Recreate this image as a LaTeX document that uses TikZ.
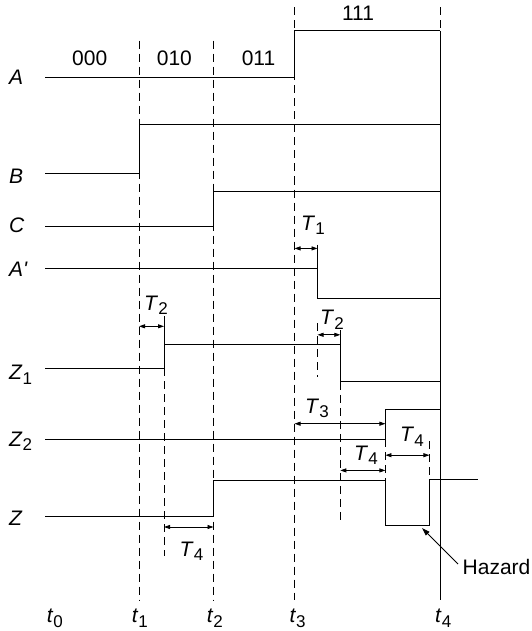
\documentclass[tikz,border=0pt]{standalone}
\usepackage{fontspec}
\setmainfont{Liberation Sans}
\usetikzlibrary{arrows.meta}
\newcommand{\sbl}[2]{\textit{#1}\raisebox{-4.5pt}{\fontsize{17}{17}\selectfont #2}}
\tikzset{
  sig/.style={line width=0.9pt},
  dsh/.style={line width=0.8pt, dash pattern=on 8pt off 5pt},
  dimarr/.style={line width=0.8pt, {Triangle[length=6pt,width=4pt]}-{Triangle[length=6pt,width=4pt]}},
  lab/.style={anchor=base west, inner sep=0pt, font=\fontsize{21}{24}\selectfont},
  cod/.style={anchor=base, inner sep=0pt, font=\fontsize{21}{24}\selectfont}
}
\begin{document}
\begin{tikzpicture}[x=1pt,y=-1pt]
\useasboundingbox (0,0) rectangle (531,631);
% time lines
\draw[dsh] (139,40.6) -- (139,600);
\draw[dsh] (213.5,40.6) -- (213.5,600);
\draw[dsh] (294.5,7.5) -- (294.5,600);
\draw[dsh] (440,7.5) -- (440,30.8);
\draw[sig] (440,30.8) -- (440,600);
% auxiliary dashed lines
\draw[dsh] (164,368) -- (164,556);
\draw[dsh] (317.5,323) -- (317.5,377);
\draw[dsh] (340.3,381.8) -- (340.3,520);
\draw[dsh] (385.4,439) -- (385.4,480.6);
\draw[dsh] (429.4,441) -- (429.4,479.2);
% signals
\draw[sig] (45,77) -- (294.5,77) -- (294.5,30.8) -- (440,30.8);
\draw[sig] (45,173.7) -- (139,173.7) -- (139,124) -- (440,124);
\draw[sig] (45,226) -- (213.5,226) -- (213.5,191.3) -- (440,191.3);
\draw[sig] (45,268.4) -- (317.5,268.4) -- (317.5,298.2) -- (440,298.2);
\draw[sig] (317.5,244.7) -- (317.5,268.4);
\draw[sig] (45,368) -- (164,368) -- (164,344) -- (340.3,344) -- (340.3,381.8) -- (440,381.8);
\draw[sig] (164,316) -- (164,344);
\draw[sig] (340.3,330.4) -- (340.3,344);
\draw[sig] (45,439) -- (385.4,439) -- (385.4,409.5) -- (440,409.5);
\draw[sig] (45,516.8) -- (213.5,516.8) -- (213.5,480.6) -- (385.4,480.6) -- (385.4,525.3) -- (429.4,525.3) -- (429.4,479.2) -- (477.5,479.2);
% delay arrows
\draw[dimarr] (294.5,248.4) -- (317.5,248.4);
\draw[dimarr] (139,326.3) -- (164,326.3);
\draw[dimarr] (317.5,334.8) -- (340.3,334.8);
\draw[dimarr] (294.5,423.7) -- (385.4,423.7);
\draw[dimarr] (385.4,455.2) -- (429.4,455.2);
\draw[dimarr] (340.3,470.4) -- (385.4,470.4);
\draw[dimarr] (164,527) -- (213.5,527);
% state codes
\node[cod] (c000) at (89.7,65.4) {000};
\node[cod] (c010) at (174.4,65.4) {010};
\node[cod] (c011) at (258.5,65.4) {011};
\node[cod] (c111) at (358,21) {111};
% signal names
\node[lab] (nA) at (9,84.7) {\textit{A}};
\node[lab] (nB) at (9,183) {\textit{B}};
\node[lab] (nC) at (9,232) {\textit{C}};
\node[lab] (nAp) at (9,276) {\textit{A\textquotesingle}};
\node[lab] (nZ1) at (9,379.5) {\sbl{Z}{1}};
\node[lab] (nZ2) at (9,446) {\sbl{Z}{2}};
\node[lab] (nZ) at (9,525) {\textit{Z}};
% delay labels
\node[lab] (lT1) at (301,230) {\sbl{T}{1}};
\node[lab] (lT2a) at (144,310) {\sbl{T}{2}};
\node[lab] (lT2b) at (320,324.6) {\sbl{T}{2}};
\node[lab] (lT3) at (305,413.3) {\sbl{T}{3}};
\node[lab] (lT4u) at (400,441.7) {\sbl{T}{4}};
\node[lab] (lT4m) at (354,460) {\sbl{T}{4}};
\node[lab] (lT4l) at (179.5,556) {\sbl{T}{4}};
% time labels
\node[lab] (t0) at (46.7,622.5) {\sbl{t}{0}};
\node[lab] (t1) at (131.7,622.5) {\sbl{t}{1}};
\node[lab] (t2) at (206.7,622.5) {\sbl{t}{2}};
\node[lab] (t3) at (289.3,622.5) {\sbl{t}{3}};
\node[lab] (t4) at (435,622.5) {\sbl{t}{4}};
% hazard
\node[lab] (hz) at (462.5,574.4) {Hazard};
\coordinate (hzt) at (422,528);
\draw[line width=0.9pt, -{Triangle[length=8pt,width=5pt]}] (458,564) -- (hzt);
\end{tikzpicture}
\end{document}
